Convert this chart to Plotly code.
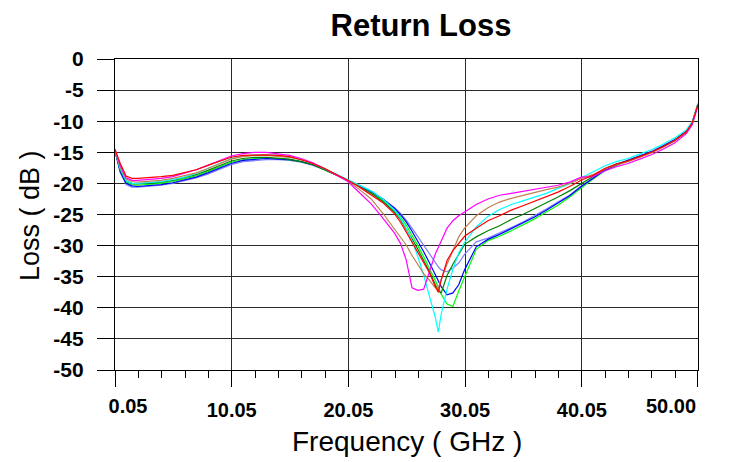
import plotly.graph_objects as go

# Frequency points (GHz)
freq = [0.05, 0.5, 1, 1.5, 2, 3, 4, 5, 6, 7, 8, 9, 10, 11, 12, 13, 14, 15, 16, 17, 18, 19, 20,
        21, 22, 23, 24, 24.5, 25, 25.5, 26, 26.5, 27, 27.5, 27.75, 28, 28.5, 29, 29.5, 30,
        31, 32, 33, 34, 35, 36, 37, 38, 39, 40,
        41, 42, 43, 44, 45, 46, 47, 48, 49, 49.5, 50]

magenta = [-14.6, -17.1, -19.1, -19.5, -19.5, -19.4, -19.2, -18.9, -18.4, -17.8, -17.1, -16.3, -15.6, -15.2, -15.0, -15.0, -15.2, -15.5, -16.0, -16.7, -17.6, -18.6, -19.7,
           -21.5, -23.3, -25.6, -28.0, -29.6, -32.3, -36.8, -37.2, -37.0, -34.0, -31.3, -30.3, -29.2, -27.2, -26.0, -25.2, -24.6,
           -23.4, -22.5, -21.9, -21.6, -21.3, -21.0, -20.7, -20.3, -19.8, -19.0,
           -18.9, -18.0, -17.3, -16.8, -16.1, -15.4, -14.5, -13.5, -12.0, -10.6, -7.5]
brown = [-14.6, -17.4, -19.3, -19.7, -19.8, -19.7, -19.5, -19.2, -18.8, -18.3, -17.6, -16.8, -16.1, -15.7, -15.5, -15.5, -15.6, -15.8, -16.2, -16.8, -17.6, -18.6, -19.6,
         -21.0, -22.5, -24.8, -27.3, -28.5, -29.9, -31.6, -33.0, -34.5, -35.6, -36.8, -36.8, -35.4, -33.0, -30.7, -28.6, -27.2,
         -25.2, -23.9, -23.0, -22.4, -21.9, -21.5, -21.0, -20.6, -20.0, -19.2,
         -18.6, -17.7, -17.0, -16.5, -15.8, -15.1, -14.2, -13.2, -11.8, -10.4, -7.3]
cyan = [-14.7, -17.7, -19.6, -20.0, -20.0, -19.9, -19.7, -19.4, -19.0, -18.4, -17.6, -16.7, -16.0, -15.6, -15.4, -15.4, -15.5, -15.8, -16.2, -16.8, -17.6, -18.5, -19.4,
        -20.3, -21.2, -22.5, -24.3, -25.6, -27.2, -29.2, -31.8, -34.8, -38.0, -41.6, -43.9, -41.0, -37.0, -33.8, -31.2, -29.5,
        -27.0, -25.3, -24.2, -23.4, -22.8, -22.2, -21.6, -20.8, -20.1, -19.1,
        -18.2, -17.2, -16.5, -16.0, -15.3, -14.6, -13.7, -12.7, -11.4, -10.1, -7.2]
red = [-14.5, -16.8, -18.8, -19.2, -19.2, -19.1, -18.9, -18.7, -18.3, -17.8, -17.1, -16.4, -15.8, -15.5, -15.4, -15.4, -15.5, -15.7, -16.2, -16.8, -17.6, -18.5, -19.5,
       -20.6, -21.8, -23.1, -24.9, -26.2, -27.8, -29.4, -31.0, -32.6, -34.4, -36.6, -37.5, -35.5, -32.4, -30.8, -29.7, -28.5,
       -27.2, -26.0, -25.2, -24.3, -23.6, -22.9, -22.2, -21.4, -20.5, -19.5,
       -18.7, -17.6, -16.9, -16.4, -15.7, -15.0, -14.1, -13.1, -11.7, -10.3, -7.3]
dark_green = [-14.7, -17.8, -19.6, -20.0, -20.1, -20.0, -19.8, -19.5, -19.1, -18.6, -17.9, -17.1, -16.4, -16.0, -15.8, -15.8, -15.9, -16.1, -16.5, -17.0, -17.8, -18.6, -19.5,
              -20.5, -21.6, -22.9, -24.6, -25.8, -27.3, -28.9, -30.6, -32.3, -34.2, -36.3, -37.3, -37.6, -34.8, -33.0, -31.5, -29.8,
              -28.6, -27.6, -26.8, -25.8, -25.0, -24.1, -23.2, -22.2, -21.2, -20.1,
              -18.9, -17.7, -16.9, -16.4, -15.7, -15.0, -14.1, -13.1, -11.7, -10.3, -7.2]
blue = [-14.8, -18.1, -20.0, -20.4, -20.5, -20.4, -20.2, -19.9, -19.5, -19.0, -18.3, -17.5, -16.8, -16.3, -16.1, -16.0, -16.1, -16.2, -16.5, -17.0, -17.7, -18.6, -19.4,
        -20.3, -21.3, -22.5, -24.0, -25.0, -26.2, -27.7, -29.3, -31.0, -32.8, -34.6, -35.6, -36.6, -37.9, -37.6, -36.3, -33.9,
        -30.2, -29.0, -28.2, -27.3, -26.4, -25.4, -24.3, -23.2, -22.0, -20.5,
        -19.2, -17.9, -17.0, -16.3, -15.6, -14.9, -14.0, -13.0, -11.6, -10.2, -7.3]
lime = [-14.8, -18.0, -19.8, -20.2, -20.3, -20.2, -20.0, -19.7, -19.3, -18.8, -18.1, -17.3, -16.6, -16.2, -16.0, -15.9, -16.0, -16.2, -16.5, -17.0, -17.8, -18.6, -19.5,
        -20.4, -21.5, -22.7, -24.3, -25.4, -26.7, -28.3, -30.0, -31.8, -33.6, -35.6, -36.7, -37.8, -39.4, -39.8, -37.3, -35.0,
        -30.6, -29.2, -28.5, -27.6, -26.7, -25.7, -24.6, -23.5, -22.2, -20.7,
        -19.3, -18.0, -17.1, -16.4, -15.7, -15.0, -14.1, -13.1, -11.7, -10.3, -7.2]
periwinkle = [-14.8, -18.3, -20.2, -20.6, -20.6, -20.5, -20.3, -20.0, -19.6, -19.1, -18.5, -17.7, -17.0, -16.5, -16.3, -16.2, -16.2, -16.3, -16.6, -17.1, -17.8, -18.7, -19.5,
              -20.3, -21.3, -22.5, -23.9, -24.8, -25.9, -27.2, -28.6, -30.0, -31.4, -32.7, -33.4, -33.9, -34.2, -33.6, -32.8, -31.4,
              -29.4, -28.8, -28.0, -27.1, -26.2, -25.2, -24.1, -23.0, -21.9, -20.4,
              -19.1, -17.8, -16.9, -16.3, -15.6, -14.9, -14.0, -13.0, -11.6, -10.2, -7.3]

x_tick_vals = [0.05, 10.05, 20.05, 30.05, 40.05, 50.00]
x_tick_text = ["0.05", "10.05", "20.05", "30.05", "40.05", "50.00"]
x_minor_vals = [2.05, 4.05, 6.05, 8.05, 12.05, 14.05, 16.05, 18.05, 22.05, 24.05, 26.05, 28.05,
                32.05, 34.05, 36.05, 38.05, 42.05, 44.05, 46.05, 48.05]
y_tick_vals = [0, -5, -10, -15, -20, -25, -30, -35, -40, -45, -50]
y_tick_text = ["0", "-5", "-10", "-15", "-20", "-25", "-30", "-35", "-40", "-45", "-50"]

series = [
    ("Trace 8", periwinkle, "#8080ff"),
    ("Trace 7", lime, "#00ff00"),
    ("Trace 6", blue, "#0000ff"),
    ("Trace 5", dark_green, "#008000"),
    ("Trace 4", cyan, "#00ffff"),
    ("Trace 3", brown, "#c08050"),
    ("Trace 2", magenta, "#ff00ff"),
    ("Trace 1", red, "#ff0000"),
]

fig = go.Figure()
for name, vals, color in series:
    fig.add_trace(go.Scatter(x=freq, y=vals, mode="lines", name=name,
                             line=dict(color=color, width=1.2)))

# empty helper traces so the label-only overlay axes (end labels) get drawn
for ax in ("x2", "x3"):
    fig.add_trace(go.Scatter(x=[x_tick_vals[-1]], y=[None], mode="lines", xaxis=ax, yaxis="y",
                             showlegend=False, hoverinfo="skip"))

font_family = "Liberation Sans, Arial, sans-serif"
tick_font = dict(size=20, weight="bold", family=font_family, color="black")
x_range = [0.05, 50.001]

# page body adds an 8px offset, so the figure is sized to fill the rest of the window
W, H = 725, 454

# main axis: ticks, grid, inner labels; end labels are drawn by overlaid label-only axes
main_text = [""] + x_tick_text[1:-1] + [""]

fig.update_layout(
    width=W, height=H,
    margin=dict(l=107, r=35, t=51, b=92, autoexpand=False),
    paper_bgcolor="white", plot_bgcolor="white",
    showlegend=False,
    font=dict(family=font_family, color="black"),
    title=dict(text="<b>Return Loss</b>", font=dict(size=31, color="black", family=font_family),
               x=413 / W, xref="container", xanchor="center",
               y=1 - 17 / H, yref="container", yanchor="middle"),
    xaxis=dict(range=x_range, tickmode="array", tickvals=x_tick_vals, ticktext=main_text,
               ticks="outside", ticklen=16, tickcolor="black", tickwidth=1,
               tickfont=tick_font,
               showgrid=True, gridcolor="#2a2a2a", gridwidth=1.4,
               showline=True, linecolor="black", linewidth=1.4, mirror=True, zeroline=False,
               minor=dict(tickmode="array", tickvals=x_minor_vals, ticks="outside", ticklen=7,
                          tickcolor="black", showgrid=False),
               ticklabelstandoff=6, automargin=False),
    xaxis2=dict(range=x_range, overlaying="x", anchor="y", side="bottom",
                tickmode="array", tickvals=[x_tick_vals[-1]], ticktext=[x_tick_text[-1]],
                ticks="", showgrid=False, showline=False, zeroline=False,
                tickfont=tick_font, ticklabelstandoff=22, ticklabelshift=-27,
                ticklabeloverflow="allow", automargin=False),
    xaxis3=dict(range=x_range, overlaying="x", anchor="y", side="bottom",
                tickmode="array", tickvals=[x_tick_vals[0]], ticktext=[x_tick_text[0]],
                ticks="", showgrid=False, showline=False, zeroline=False,
                tickfont=tick_font, ticklabelstandoff=22, ticklabelshift=13,
                ticklabeloverflow="allow", automargin=False),
    yaxis=dict(range=[-50, 0], tickmode="array", tickvals=y_tick_vals, ticktext=y_tick_text,
               ticks="outside", ticklen=17, tickcolor="black", tickwidth=1,
               tickfont=dict(size=21, weight="bold", family=font_family, color="black"),
               showgrid=True, gridcolor="#2a2a2a", gridwidth=1.4,
               showline=True, linecolor="black", linewidth=1.4, mirror=True, zeroline=False,
               ticklabelstandoff=9, ticklabeloverflow="allow", automargin=False),
    annotations=[
        dict(text="Frequency ( GHz )", x=0.501, y=-0.2315, xref="paper", yref="paper",
             xanchor="center", yanchor="middle", showarrow=False,
             font=dict(size=28, color="black", family=font_family)),
        dict(text="Loss ( dB )", x=-0.146, y=0.498, xref="paper", yref="paper",
             xanchor="center", yanchor="middle", showarrow=False, textangle=-90,
             font=dict(size=27, color="black", family=font_family)),
    ],
)

fig.write_html("out.html")
